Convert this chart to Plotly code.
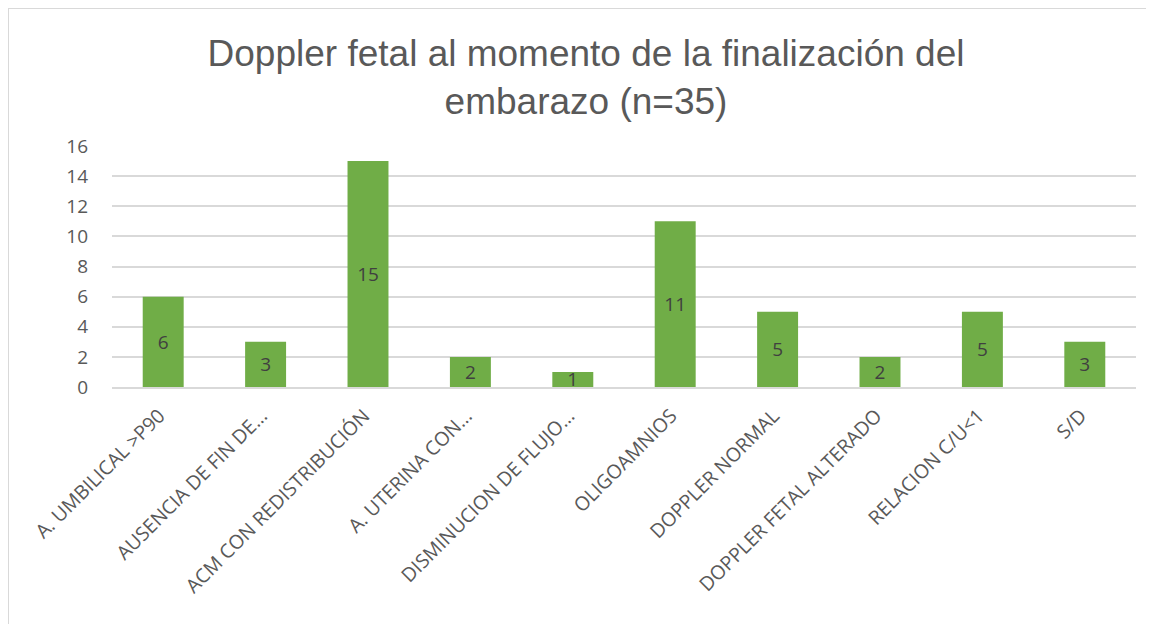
import plotly.graph_objects as go

# --- Data ---

categories = [
    "A. UMBILICAL >P90",
    "AUSENCIA DE FIN DE…",
    "ACM CON REDISTRIBUCIÓN",
    "A. UTERINA CON…",
    "DISMINUCION DE FLUJO…",
    "OLIGOAMNIOS",
    "DOPPLER NORMAL",
    "DOPPLER FETAL ALTERADO",
    "RELACION C/U<1",
    "S/D",
]
counts = [6, 3, 15, 2, 1, 11, 5, 2, 5, 3]
y_ticks = [0, 2, 4, 6, 8, 10, 12, 14, 16]

title = "Doppler fetal al momento de la finalización del<br>embarazo (n=35)"

# page body adds an 8px margin, so the figure is a bit smaller than the window
W, H = 1146, 616
L, R, T, B = 104, 1146 - 1128, 138, 616 - 379

fig = go.Figure(go.Bar(
    x=categories,
    y=counts,
    text=counts,
    textposition="inside",
    insidetextanchor="middle",
    textangle=0,
    constraintext="none",
    textfont=dict(family="Open Sans", size=19, color="#404040"),
    marker=dict(color="#70ad47", line=dict(width=0)),
    width=0.40,
    hoverinfo="skip",
))

pw, ph = W - L - R, H - T - B

fig.update_layout(
    width=W,
    height=H,
    margin=dict(l=L, r=R, t=T, b=B),
    paper_bgcolor="white",
    plot_bgcolor="white",
    showlegend=False,
    title=dict(
        text=title,
        x=(586 - 8) / W,
        xanchor="center",
        xref="container",
        y=1 - 58 / H,
        yanchor="top",
        font=dict(family="Liberation Sans", size=37, color="#595959"),
    ),
    xaxis=dict(
        tickangle=-45,
        tickfont=dict(family="Open Sans", size=19.5, color="#595959"),
        showgrid=False,
        showline=True,
        linecolor="#d9d9d9",
        linewidth=1.5,
        ticks="",
        ticklabelstandoff=8,
        ticklabelshift=-4,
    ),
    yaxis=dict(
        range=[0, 16],
        tickvals=y_ticks,
        tickfont=dict(family="Open Sans", size=19, color="#595959"),
        showgrid=True,
        gridcolor="#d9d9d9",
        gridwidth=1.5,
        zeroline=False,
        showline=False,
        ticks="",
        ticklabelstandoff=23,
    ),
    shapes=[
        # chart frame (left and top edges visible)
        dict(
            type="rect", xref="paper", yref="paper",
            x0=-(L - 0) / pw, x1=(pw + R + 20) / pw,
            y0=-(B + 20) / ph, y1=1 + (T - 0) / ph,
            line=dict(color="#d9d9d9", width=2),
            fillcolor="rgba(0,0,0,0)",
            layer="below",
        )
    ],
)

fig.write_html("out.html")
